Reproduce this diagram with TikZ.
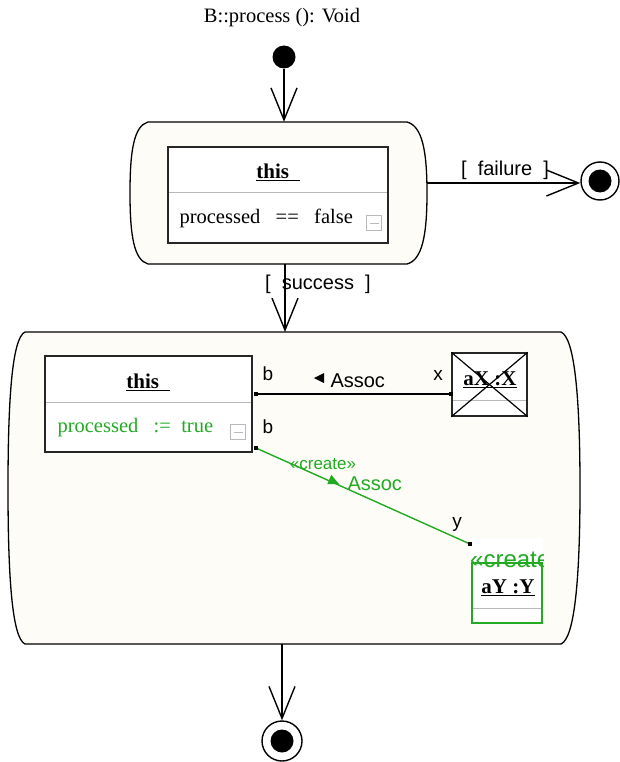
\documentclass[tikz,border=0pt]{standalone}
\usepackage{fontspec}
\setmainfont{Liberation Serif}
\setsansfont{Liberation Sans}
\usetikzlibrary{arrows.meta}
\definecolor{cream}{RGB}{253,252,246}
\definecolor{umlgreen}{RGB}{34,170,34}
\definecolor{divgray}{RGB}{185,185,185}
\begin{document}
\begin{tikzpicture}[x=1pt,y=-1pt,
  capsule/.style={draw=black,line width=1.3pt,fill=cream},
  objbox/.style={draw=black!85,line width=1.3pt,fill=white,inner sep=0pt},
  divider/.style={draw=divgray,line width=0.8pt},
  flow/.style={draw=black,line width=1.4pt,-{Straight Barb[length=32pt,width=26pt,line width=1.4pt]}},
  link/.style={draw=black,line width=1.4pt},
  glink/.style={draw=umlgreen,line width=1.4pt},
  serifbig/.style={font=\fontsize{20.5}{24}\selectfont},
  boldname/.style={font=\bfseries\fontsize{21}{25}\selectfont},
  sanslab/.style={font=\sffamily\fontsize{20}{24}\selectfont},
  role/.style={font=\sffamily\fontsize{19}{22}\selectfont},
  minusbox/.style={draw=divgray,line width=1pt,minimum size=15pt,inner sep=0pt,fill=white},
  endpt/.style={fill=black,minimum size=4.5pt,inner sep=0pt},
]
\useasboundingbox (0,0) rectangle (619,762);

% title
\node[serifbig] (title) at (282,18) {B::process (): Void};

% start node
\node[circle,fill=black,inner sep=0pt,minimum size=23pt] (start) at (284,57) {};

% state 1
\node[inner sep=0pt,minimum width=297pt,minimum height=142pt] (s1) at (278.5,193) {};
\path[capsule] (148,122) -- (407,122) .. controls (422,126) and (427,150) .. (427,193)
  .. controls (427,236) and (422,260) .. (407,264) -- (148,264)
  .. controls (134,260) and (130,236) .. (130,193)
  .. controls (130,150) and (134,126) .. (148,122) -- cycle;

\node[objbox,minimum width=220pt,minimum height=96pt] (this1) at (278,195) {};
\draw[divider] (169,192) -- (387,192);
\node[boldname] (t1) at (278,172) {\underline{this\,\,\,}};
\node[serifbig,anchor=west] (c1) at (176,218) {processed\ \ \ ==\ \ \ false};
\node[minusbox] (m1) at (374,223) {};
\draw[divgray,line width=1pt] (369.5,223.5) -- (378.5,223.5);

% final node (failure)
\node[circle,draw=black,line width=1.4pt,inner sep=0pt,minimum size=38pt] (f1) at (600,181) {};
\node[circle,fill=black,inner sep=0pt,minimum size=23pt] at (f1) {};

% state 2
\node[inner sep=0pt,minimum width=572pt,minimum height=312pt] (s2) at (294,488) {};
\path[capsule] (25,332) -- (561,332) .. controls (575,338) and (580,400) .. (580,488)
  .. controls (580,576) and (575,638) .. (561,644) -- (25,644)
  .. controls (12,638) and (8,576) .. (8,488)
  .. controls (8,400) and (12,338) .. (25,332) -- cycle;

\node[objbox,minimum width=207pt,minimum height=96pt] (this2) at (148.5,404) {};
\draw[divider] (46,402) -- (251,402);
\node[boldname] (t2) at (148,382) {\underline{this\,\,\,}};
\node[serifbig,text=umlgreen,anchor=west] (c2) at (54,428) {processed\ \ \ :=\ \ true};
\node[minusbox] (m2) at (238,432) {};
\draw[divgray,line width=1pt] (233.5,432.5) -- (242.5,432.5);

% aX :X (destroyed)
\node[objbox,minimum width=75pt,minimum height=63pt] (ax) at (489.5,384.5) {};
\draw[divider] (453,400) -- (526,400);
\node[boldname] (axt) at (490,380) {\underline{aX :X}};
\draw[black,line width=1.2pt] (ax.north west) -- (ax.south east);
\draw[black,line width=1.2pt] (ax.south west) -- (ax.north east);

% aY :Y (created)
\fill[white] (470,538) rectangle (543,562);
\node[draw=umlgreen,line width=1.4pt,fill=white,inner sep=0pt,minimum width=70pt,minimum height=60pt] (ay) at (507,593) {};
\draw[divider] (473,608) -- (541,608);
\node[boldname] (ayt) at (508,588) {\underline{aY :Y}};
\begin{scope}
  \clip (470,538) rectangle (543,575);
  \node[font=\sffamily\fontsize{24}{28}\selectfont,text=umlgreen,anchor=west,inner sep=0pt] (ayc) at (470,560) {«create»};
\end{scope}

% final node (bottom)
\node[circle,draw=black,line width=1.4pt,inner sep=0pt,minimum size=40pt] (f2) at (282,741) {};
\node[circle,fill=black,inner sep=0pt,minimum size=23pt] at (f2) {};

% flows
\draw[flow] (start) -- (start |- s1.north);
\draw[flow] (s1.east |- 0,183) -- (f1.west |- 0,183);
\node[sanslab] (lf) at (505,170) {[\ \ failure\ \ ]};
\draw[flow] (285,264) -- (285,332);
\node[sanslab] (ls) at (318,284) {[\ \ success\ \ ]};
\draw[flow] (f2 |- s2.south) -- (f2.north);

% link aX
\coordinate (la) at (256,394);
\coordinate (lb) at (451,394);
\draw[link] (la) -- (lb);
\node[endpt] at (la) {};
\node[endpt] at (lb) {};
\node[role] (rb1) at (268,374) {b};
\node[role] (rx) at (438,375) {x};
\fill[black] (314,378) -- (324,373) -- (324,383) -- cycle;
\node[sanslab,anchor=west] (as1) at (327,381) {Assoc};

% link aY (create)
\coordinate (lc) at (256,448);
\coordinate (ld) at (470,544);
\draw[glink] (lc) -- (ld);
\node[endpt] at (lc) {};
\node[endpt] at (ld) {};
\node[role] (rb2) at (268,427) {b};
\node[role] (ry) at (457,524) {y};
\node[font=\sffamily\fontsize{17}{20}\selectfont,text=umlgreen] (cr) at (323,464) {«create»};
\fill[umlgreen] (339,484) -- (327.3,484.0) -- (331.3,474.8) -- cycle;
\node[sanslab,text=umlgreen,anchor=west] (as2) at (344,484) {Assoc};
\end{tikzpicture}
\end{document}
